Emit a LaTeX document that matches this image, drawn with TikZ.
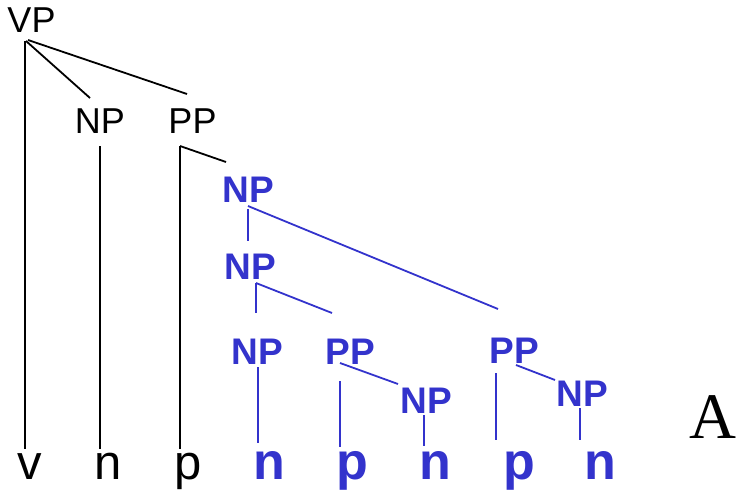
\documentclass[tikz,border=0pt]{standalone}
\usepackage{fontspec}
\newfontfamily\arial{Liberation Sans}
\newfontfamily\serifA{Liberation Serif}
\definecolor{treeblue}{RGB}{51,51,204}
\begin{document}
\begin{tikzpicture}[
    x=0.5pt, y=-0.5pt,
    cat/.style={inner sep=0pt, anchor=base, font=\arial\fontsize{18}{20}\selectfont},
    bluecat/.style={inner sep=0pt, anchor=base, text=treeblue, font=\arial\bfseries\fontsize{18.5}{20}\selectfont},
    word/.style={inner sep=0pt, anchor=base, font=\arial\fontsize{24.5}{28}\selectfont},
    blueword/.style={inner sep=0pt, anchor=base, text=treeblue, font=\arial\bfseries\fontsize{26}{28}\selectfont},
    branch/.style={line width=0.9pt},
    bluebranch/.style={line width=0.9pt, treeblue}
]
\useasboundingbox (0,0) rectangle (742,492);

% Black categories
\node[cat] (vp) at (31.5,33) {VP};
\node[cat] (np) at (100,133) {NP};
\node[cat] (pp) at (192.5,133) {PP};

% Blue categories
\node[bluecat] (npa) at (248,202) {NP};
\node[bluecat] (npb) at (250.5,279) {NP};
\node[bluecat] (npc) at (257.5,364) {NP};
\node[bluecat] (ppa) at (350.5,364) {PP};
\node[bluecat] (ppb) at (514.5,363) {PP};
\node[bluecat] (npd) at (426,413) {NP};
\node[bluecat] (npe) at (582.5,406) {NP};

% Words
\node[word] (v) at (29.5,479) {v};
\node[word] (n) at (108.5,479) {n};
\node[word] (p) at (188.5,479) {p};
\node[blueword] (na) at (269.5,479) {n};
\node[blueword] (pa) at (352.5,479) {p};
\node[blueword] (nb) at (435,479) {n};
\node[blueword] (pb) at (519.5,479) {p};
\node[blueword] (nc) at (600,479) {n};

% Label
\node[inner sep=0pt, anchor=base, font=\serifA\fontsize{32.5}{36}\selectfont] (label) at (713,438) {A};

% Black branches
\draw[branch] ([shift={(-6.5,8)}]vp.base) -- ([shift={(-4.5,-30)}]v.base);
\draw[branch] ([shift={(-5.5,8)}]vp.base) -- ([shift={(-10,-35)}]np.base);
\draw[branch] ([shift={(-3.5,7)}]vp.base) -- ([shift={(-5.5,-39)}]pp.base);
\draw[branch] ([shift={(0,13)}]np.base) -- ([shift={(-8.5,-30)}]n.base);
\draw[branch] ([shift={(-12.5,13)}]pp.base) -- ([shift={(-8.5,-30)}]p.base);
\draw[branch] ([shift={(-12.5,13)}]pp.base) -- ([shift={(-22,-40)}]npa.base);

% Blue branches
\draw[bluebranch] ([shift={(0,7)}]npa.base) -- ([shift={(-2.5,-38)}]npb.base);
\draw[bluebranch] ([shift={(0,4)}]npa.base) -- ([shift={(-16.5,-54)}]ppb.base);
\draw[bluebranch] ([shift={(5.5,4)}]npb.base) -- ([shift={(-1.5,-51)}]npc.base);
\draw[bluebranch] ([shift={(5.5,4)}]npb.base) -- ([shift={(-18.5,-51)}]ppa.base);
\draw[bluebranch] ([shift={(0.5,3)}]npc.base) -- ([shift={(-11.5,-36)}]na.base);
\draw[bluebranch] ([shift={(-10.5,17)}]ppa.base) -- ([shift={(-12.5,-32)}]pa.base);
\draw[bluebranch] ([shift={(-10.5,-1)}]ppa.base) -- ([shift={(-28,-29)}]npd.base);
\draw[bluebranch] ([shift={(-2,2)}]npd.base) -- ([shift={(-11,-33)}]nb.base);
\draw[bluebranch] ([shift={(-18.5,10)}]ppb.base) -- ([shift={(-23.5,-39)}]pb.base);
\draw[bluebranch] ([shift={(1.5,2)}]ppb.base) -- ([shift={(-27.5,-26)}]npe.base);
\draw[bluebranch] ([shift={(-2.5,2)}]npe.base) -- ([shift={(-20,-39)}]nc.base);

\end{tikzpicture}
\end{document}
